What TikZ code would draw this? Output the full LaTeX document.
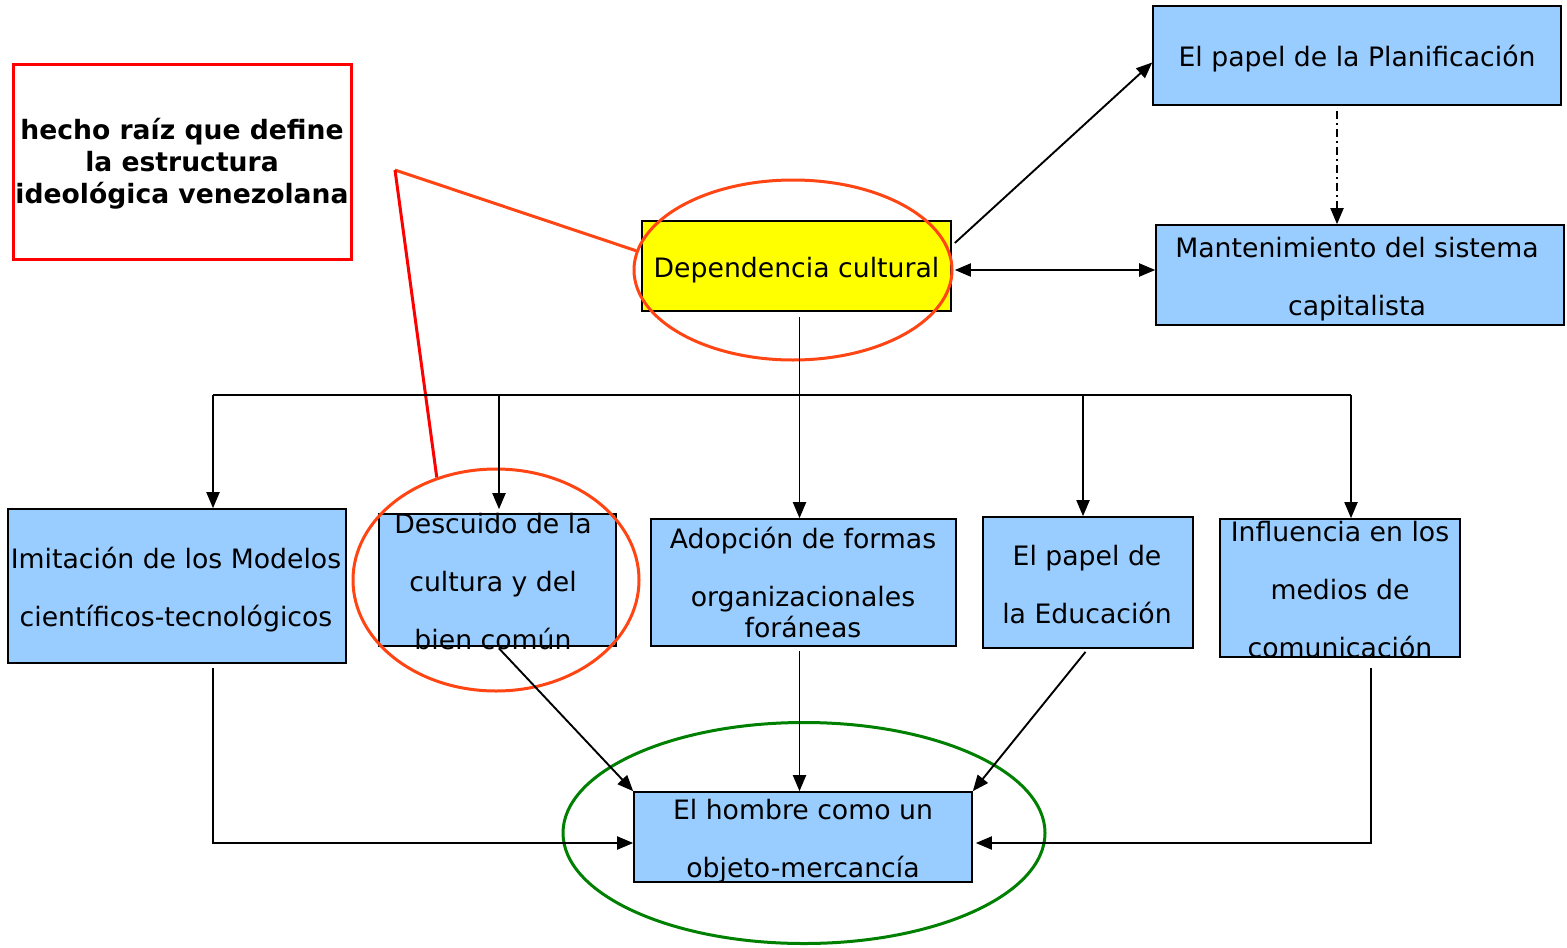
\documentclass[tikz,border=0pt]{standalone}
\usepackage{fontspec}
\setmainfont{DejaVu Sans}
\usetikzlibrary{arrows.meta,shapes.geometric,calc}
\definecolor{boxblue}{RGB}{153,204,255}
\definecolor{depyellow}{RGB}{255,255,0}
\definecolor{ringorange}{RGB}{255,69,20}
\definecolor{ringgreen}{RGB}{0,128,0}
\begin{document}
\begin{tikzpicture}[x=0.5pt,y=-0.5pt,
  bx/.style={draw=black,line width=0.8pt,fill=boxblue,inner sep=0pt},
  lbl/.style={align=center,inner sep=0pt,font=\fontsize{13.35pt}{29pt}\selectfont},
  tip/.style={-{Triangle[length=8pt,width=6.5pt]}},
  arr/.style={draw=black,line width=0.95pt,tip},
  ln/.style={draw=black,line width=0.95pt},
  ring/.style={ellipse,draw,line width=1.5pt,inner sep=0pt,fill=none}]
\useasboundingbox (0,0) rectangle (1567,947);
% callout box
\node[draw=red,line width=1.5pt,minimum width=169pt,minimum height=97pt,inner sep=0pt] (hecho) at (182,162) {};
\node[lbl,font=\bfseries\fontsize{13.3pt}{15.9pt}\selectfont] (hechot) at (182,164) {hecho raíz que define\\la estructura\\ideológica venezolana};
% boxes
\node[bx,fill=depyellow,minimum width=154.5pt,minimum height=45pt] (dep) at (796.5,266) {};
\node[bx,minimum width=204pt,minimum height=49.5pt] (plan) at (1357,55.5) {};
\node[bx,minimum width=204pt,minimum height=50pt] (mant) at (1360,275) {};
\node[bx,minimum width=169pt,minimum height=77pt] (imit) at (177,586) {};
\node[bx,minimum width=118.5pt,minimum height=66pt] (desc) at (497.5,580) {};
\node[bx,minimum width=152.5pt,minimum height=63.5pt] (adop) at (803.5,582.5) {};
\node[bx,minimum width=105pt,minimum height=65.5pt] (edu) at (1088,582.5) {};
\node[bx,minimum width=120pt,minimum height=69pt] (infl) at (1340,588) {};
\node[bx,minimum width=169pt,minimum height=45pt] (homb) at (803,837) {};
% texts
\node[lbl] (dept) at (796.5,270) {Dependencia cultural};
\node[lbl] (plant) at (1357,59) {El papel de la Planificación};
\node[lbl] (mantt) at (1357,279) {Mantenimiento del sistema\\capitalista};
\node[lbl] (imitt) at (176,590) {Imitación de los Modelos\\científicos-tecnológicos};
\node[lbl] (desct) at (493,582) {Descuido de la\\cultura y del\\bien común};
\node[lbl] (adopt) at (803,583) {Adopción de formas\\organizacionales\\[-13.5pt]foráneas};
\node[lbl] (edut) at (1087,585) {El papel de\\la Educación};
\node[lbl] (inflt) at (1340,590) {Influencia en los\\medios de\\comunicación};
\node[lbl] (hombt) at (803,841) {El hombre como un\\objeto-mercancía};
% rings
\node[ring,draw=ringorange,minimum width=159pt,minimum height=90pt] (depring) at (793,270) {};
\node[ring,draw=ringorange,minimum width=143pt,minimum height=111pt] (descring) at (496,580) {};
\node[ring,draw=ringgreen,minimum width=241pt,minimum height=110.5pt] (hombring) at (804,833) {};
% callout lines
\coordinate (callpt) at (395,170);
\draw[ringorange,line width=1.5pt] (depring.173) -- (callpt);
\draw[red,line width=1.5pt] (callpt) -- (descring.120);
% top connectors
\coordinate (dN) at ([xshift=1.5pt,yshift=11.5pt]dep.east);
\draw[arr] (dN) -- ([yshift=-3.5pt]plan.west);
\coordinate (dE) at ([xshift=1.5pt,yshift=-2pt]dep.east);
\draw[line width=0.95pt,{Triangle[length=8pt,width=6.5pt]}-{Triangle[length=8pt,width=6.5pt]}] (dE) -- (dE -| mant.west);
\coordinate (pS) at ([xshift=-10pt,yshift=-2.5pt]plan.south);
\draw[arr,dash pattern=on 4pt off 2pt on 1pt off 2pt] (pS) -- (pS |- mant.north);
% bus
\coordinate (busL) at (213,395);
\coordinate (busR) at (1351,395);
\coordinate (busD) at (499,395);
\coordinate (busE) at (1083,395);
\draw[ln] (busL) -- (busR);
\draw[arr] (busL) -- (busL |- imit.north);
\draw[arr,shorten >=2pt] (busD) -- (busD |- desc.north);
\draw[arr] (busE) -- (busE |- edu.north);
\draw[arr] (busR) -- (busR |- infl.north);
\coordinate (dS) at ([xshift=1.5pt]dep.south);
\draw[arr,shorten <=2.5pt] (dS) -- (dS |- adop.north);
% lower connectors
\draw[arr,shorten <=1pt] (desc.south) -- (homb.north west);
\coordinate (aS) at ([xshift=-2pt]adop.south);
\draw[arr,shorten <=2pt] (aS) -- (aS |- homb.north);
\draw[arr,shorten <=2pt] (edu.south) -- (homb.north east);
\coordinate (iS) at ([xshift=18pt,yshift=-2pt]imit.south);
\coordinate (hW) at ([yshift=-3pt]homb.west);
\draw[arr] (iS) |- (hW);
\coordinate (fS) at ([xshift=15.5pt,yshift=-5pt]infl.south);
\coordinate (hE) at ([xshift=1.5pt,yshift=-3pt]homb.east);
\draw[arr] (fS) |- (hE);
\end{tikzpicture}
\end{document}
